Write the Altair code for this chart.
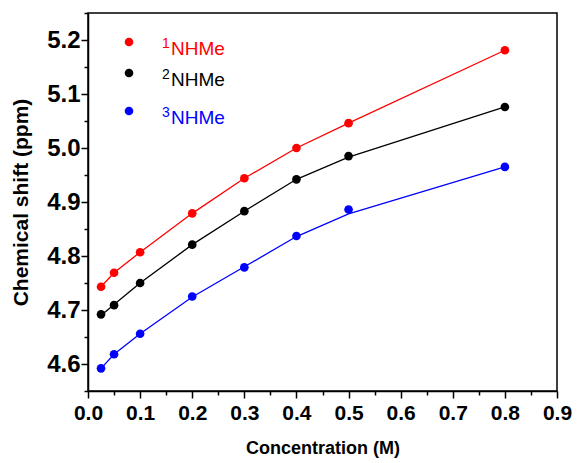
import altair as alt
import pandas as pd

# Concentration series (M) and measured chemical shifts (ppm)
conc = [0.025, 0.05, 0.1, 0.2, 0.3, 0.4, 0.5, 0.8]
shift_1 = [4.743, 4.769, 4.807, 4.879, 4.944, 5.000, 5.046, 5.181]
shift_2 = [4.692, 4.709, 4.750, 4.821, 4.883, 4.942, 4.985, 5.076]
shift_3 = [4.592, 4.618, 4.656, 4.725, 4.779, 4.837, 4.886, 4.965]

# Fitted curves evaluated at the same concentrations
fit_1 = [4.743, 4.769, 4.807, 4.879, 4.944, 5.000, 5.046, 5.181]
fit_2 = [4.690, 4.710, 4.750, 4.821, 4.883, 4.942, 4.983, 5.076]
fit_3 = [4.592, 4.618, 4.656, 4.724, 4.780, 4.836, 4.878, 4.965]

series_digits = ["1", "2", "3"]
series_names = ["NHMe", "NHMe", "NHMe"]
series_colors = ["#ff0000", "#000000", "#0000ff"]

rows = []
for digit, ys, fs in zip(series_digits, [shift_1, shift_2, shift_3], [fit_1, fit_2, fit_3]):
    for x, y, f in zip(conc, ys, fs):
        rows.append({"series": digit, "conc": x, "shift": y, "fit": f})
df = pd.DataFrame(rows)

FONT = "Liberation Sans"

color = alt.Color("series:N", scale=alt.Scale(domain=series_digits, range=series_colors), legend=None)

is_major = "abs(datum.value*10 - round(datum.value*10)) < 0.01"
common_axis = dict(
    grid=False,
    labelExpr=f"{is_major} ? format(datum.value, '.1f') : ''",
    tickSize={"condition": {"test": is_major, "value": 7}, "value": 4},
    labelFont=FONT, labelFontWeight="bold", labelColor="black",
    titleFont=FONT, titleFontWeight="bold", titleColor="black",
    domainColor="black", domainWidth=1.5, tickColor="black", tickWidth=1.5,
    labelFlush=False, labelOverlap=False,
)
x_axis = alt.Axis(
    values=[round(i * 0.05, 2) for i in range(19)],
    title="Concentration (M)", titleFontSize=18, labelFontSize=21,
    labelPadding=4, titlePadding=16,
    **common_axis,
)
y_axis = alt.Axis(
    values=[round(4.55 + i * 0.05, 2) for i in range(15)],
    title="Chemical shift (ppm)", titleFontSize=21, labelFontSize=24,
    labelPadding=1, titlePadding=15,
    **common_axis,
)
x_scale = alt.Scale(domain=[0, 0.9], nice=False, zero=False)
y_scale = alt.Scale(domain=[4.55, 5.25], nice=False, zero=False)

lines = alt.Chart(df).mark_line(strokeWidth=1.3).encode(
    x=alt.X("conc:Q", scale=x_scale, axis=x_axis),
    y=alt.Y("fit:Q", scale=y_scale, axis=y_axis),
    color=color,
    detail="series:N",
)
points = alt.Chart(df).mark_circle(size=75, opacity=1).encode(
    x=alt.X("conc:Q", scale=x_scale, axis=x_axis),
    y=alt.Y("shift:Q", scale=y_scale, axis=y_axis),
    color=color,
)

# Legend entries drawn inside the plot area (pixel positions)
legend_rows_y = [29, 60, 98]
legend_layers = []
one = pd.DataFrame({"k": [0]})
for digit, name, col, py in zip(series_digits, series_names, series_colors, legend_rows_y):
    legend_layers.append(
        alt.Chart(one).mark_circle(size=75, opacity=1, color=col).encode(
            x=alt.value(41), y=alt.value(py)
        )
    )
    legend_layers.append(
        alt.Chart(one).mark_text(
            font=FONT, fontSize=14, align="left", baseline="alphabetic", color=col, text=digit
        ).encode(x=alt.value(74), y=alt.value(py + 6))
    )
    legend_layers.append(
        alt.Chart(one).mark_text(
            font=FONT, fontSize=19, align="left", baseline="alphabetic", color=col, text=name
        ).encode(x=alt.value(83), y=alt.value(py + 13))
    )

chart = alt.layer(lines, points, *legend_layers).properties(
    width=469,
    height=378,
    autosize=alt.AutoSizeParams(type="none"),
    padding={"left": 88, "top": 13, "right": 20, "bottom": 72},
    background="white",
).configure_view(stroke="black", strokeWidth=1.5)

chart.save("out.html", embed_options={"renderer": "svg", "actions": False})
